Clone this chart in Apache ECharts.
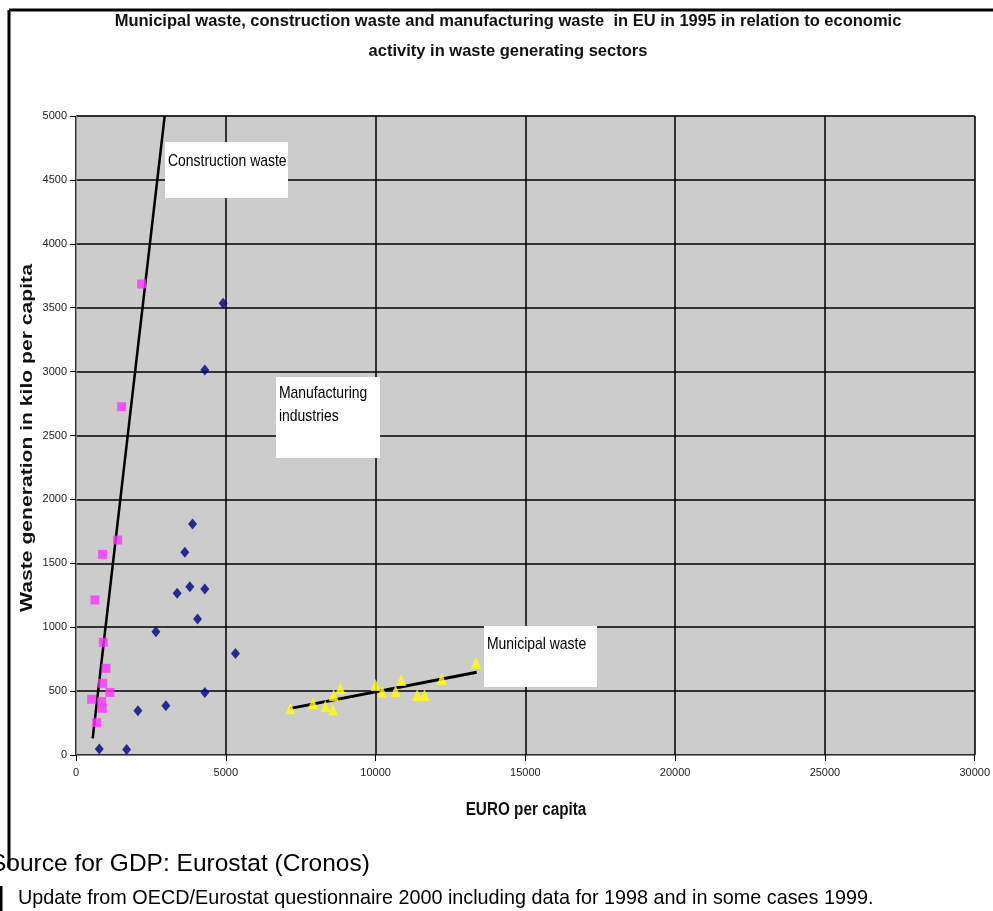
<!DOCTYPE html>
<html>
<head>
<meta charset="utf-8">
<script src="https://cdn.jsdelivr.net/npm/echarts@6/dist/echarts.min.js"></script>
<style>
html,body{margin:0;padding:0;background:#fff;}
#c{width:993px;height:911px;}
</style>
</head>
<body>
<div id="c"></div>
<script>
// Construction waste (pink squares): [EURO per capita, kg per capita]
const constructionPoints = [
  [2190, 3685], [1523, 2725], [1390, 1682], [890, 1570], [633, 1213],
  [911, 882], [1000, 678], [890, 561], [1133, 490], [523, 436],
  [856, 417], [877, 365], [689, 253]
];
// Manufacturing industries (blue diamonds)
const manufacturingPoints = [
  [4910, 3534], [4300, 3012], [3890, 1807], [3633, 1586], [3800, 1317],
  [4300, 1299], [3377, 1265], [4057, 1064], [2667, 965], [5323, 795],
  [4300, 490], [3000, 386], [2067, 347], [777, 47], [1690, 44]
];
// Municipal waste (yellow triangles)
const municipalPoints = [
  [7157, 365], [7910, 404], [8323, 383], [8577, 357], [8600, 469],
  [8823, 522], [10000, 548], [10223, 496], [10667, 501], [10857, 587],
  [11390, 469], [11633, 469], [12210, 595], [13357, 722]
];
// Trend lines
const constructionTrend = [[557, 130], [2960, 5000]];
const municipalTrend = [[7157, 365], [13377, 647]];

const titleLine1 = 'Municipal waste, construction waste and manufacturing waste  in EU in 1995 in relation to economic';
const titleLine2 = 'activity in waste generating sectors';
const xAxisName = 'EURO per capita';
const yAxisName = 'Waste generation in kilo per capita';
const footer1 = 'Source for GDP: Eurostat (Cronos)';
const footer2 = 'Update from OECD/Eurostat questionnaire 2000 including data for 1998 and in some cases 1999.';
const labelConstruction = 'Construction waste';
const labelManufacturing = 'Manufacturing\nindustries';
const labelMunicipal = 'Municipal waste';

const chart = echarts.init(document.getElementById('c'), null, {renderer: 'canvas'});
const F = 'Liberation Sans, Arial, sans-serif';

function box(x, y, w, h, lines, textY) {
  return [
    {type: 'rect', shape: {x: x, y: y, width: w, height: h}, style: {fill: '#ffffff'}, z: 10},
    {type: 'text', x: x + 3, y: textY, scaleX: 0.82, scaleY: 1,
     style: {text: lines, font: '17px ' + F, fill: '#000', lineHeight: 23, textVerticalAlign: 'middle'}, z: 11}
  ];
}

const noComma = function (v) { return String(v); };

chart.setOption({
  animation: false,
  backgroundColor: '#ffffff',
  grid: {left: 76, right: 17, top: 116, bottom: 156, show: true, backgroundColor: '#cccccc', borderColor: '#888888', borderWidth: 1},
  xAxis: {
    type: 'value', min: 0, max: 30000, interval: 5000,
    axisLine: {show: true, onZero: false, lineStyle: {color: '#888', width: 1}},
    axisTick: {show: true, length: 6, lineStyle: {color: '#000'}},
    axisLabel: {color: '#222', fontSize: 11, fontFamily: F, margin: 12, formatter: noComma},
    splitLine: {show: true, lineStyle: {color: '#000', width: 1.5}}
  },
  yAxis: {
    type: 'value', min: 0, max: 5000, interval: 500,
    axisLine: {show: true, lineStyle: {color: '#888', width: 1}},
    axisTick: {show: true, length: 6, lineStyle: {color: '#000'}},
    axisLabel: {color: '#222', fontSize: 11, fontFamily: F, margin: 9, formatter: noComma},
    splitLine: {show: true, lineStyle: {color: '#000', width: 1.5}}
  },
  series: [
    {type: 'line', data: constructionTrend, showSymbol: false, symbol: 'none', clip: true,
     lineStyle: {color: '#000', width: 2.5}, z: 3},
    {type: 'line', data: municipalTrend, showSymbol: false, symbol: 'none', clip: true,
     lineStyle: {color: '#000', width: 3}, z: 3},
    {type: 'scatter', data: constructionPoints, symbol: 'rect', symbolSize: 9,
     itemStyle: {color: '#ff33ff'}, z: 4},
    {type: 'scatter', data: manufacturingPoints, symbol: 'diamond', symbolSize: [9, 11],
     itemStyle: {color: '#000080'}, z: 4},
    {type: 'scatter', data: municipalPoints, symbol: 'triangle', symbolSize: [10, 12],
     itemStyle: {color: '#ffff00'}, z: 4}
  ],
  graphic: [
    // frame lines
    {type: 'line', shape: {x1: 9, y1: 10, x2: 993, y2: 10}, style: {stroke: '#000', lineWidth: 3}, z: 20},
    {type: 'line', shape: {x1: 9, y1: 10, x2: 9, y2: 868}, style: {stroke: '#000', lineWidth: 3}, z: 20},
    {type: 'line', shape: {x1: 1, y1: 886, x2: 1, y2: 911}, style: {stroke: '#000', lineWidth: 3}, z: 20},
    // title
    {type: 'text', x: 508, y: 21, style: {text: titleLine1, font: 'bold 16.5px ' + F, fill: '#111', textAlign: 'center', textVerticalAlign: 'middle'}, z: 20},
    {type: 'text', x: 508, y: 51, style: {text: titleLine2, font: 'bold 16.5px ' + F, fill: '#111', textAlign: 'center', textVerticalAlign: 'middle'}, z: 20},
    // axis names
    {type: 'text', x: 526, y: 810, scaleX: 0.85, style: {text: xAxisName, font: 'bold 18px ' + F, fill: '#111', textAlign: 'center', textVerticalAlign: 'middle'}, z: 20},
    {type: 'text', x: 28, y: 438, rotation: Math.PI / 2, scaleX: 1.32, style: {text: yAxisName, font: 'bold 16px ' + F, fill: '#111', textAlign: 'center', textVerticalAlign: 'middle'}, z: 20},
    // footers
    {type: 'text', x: -10, y: 864, style: {text: footer1, font: '24.5px ' + F, fill: '#000', textVerticalAlign: 'middle'}, z: 20},
    {type: 'text', x: 18, y: 899, style: {text: footer2, font: '19.8px ' + F, fill: '#000', textVerticalAlign: 'middle'}, z: 20}
  ]
    .concat(box(165, 142, 123, 56, labelConstruction, 161))
    .concat(box(276, 377, 104, 81, labelManufacturing, 405))
    .concat(box(484, 626, 113, 61, labelMunicipal, 644))
});
</script>
</body>
</html>
